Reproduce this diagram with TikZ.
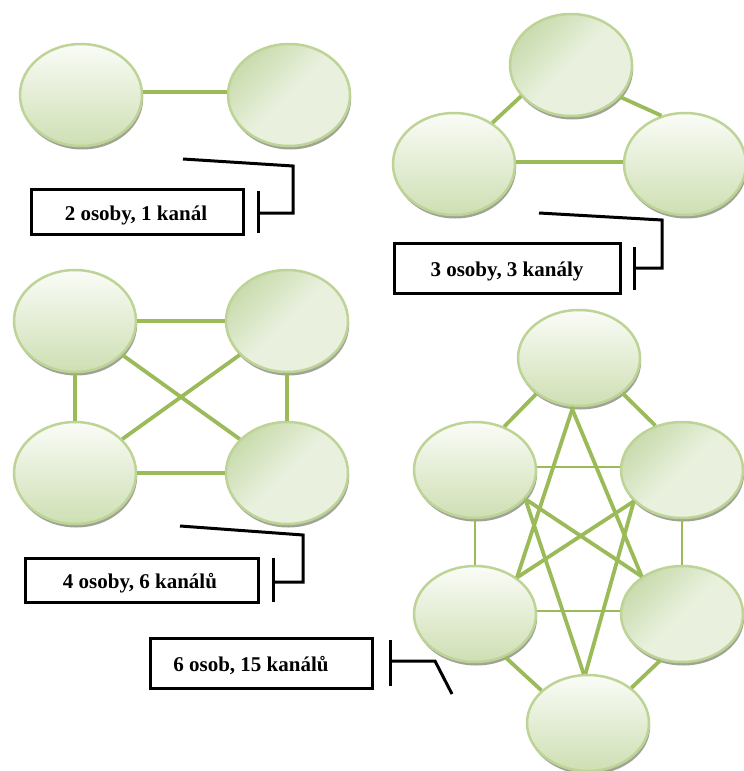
\documentclass[tikz,border=0pt]{standalone}
\usepackage{fontspec}
\setmainfont{Liberation Serif}
\usetikzlibrary{shapes.geometric,shadows}

\definecolor{rimgreen}{HTML}{BED497}
\definecolor{linkgreen}{HTML}{9BBB59}
\definecolor{fillgreen}{HTML}{CEDFB3}
\definecolor{paleg}{HTML}{FAFCF7}
\definecolor{diagdark}{HTML}{C9DBAD}
\definecolor{diaglight}{HTML}{E9F1DE}
\definecolor{shadowgrey}{HTML}{9EA396}

\tikzset{
  person/.style={ellipse, draw=rimgreen, line width=2.5pt, inner sep=0pt,
    minimum width=122pt, minimum height=102pt,
    drop shadow={shadow xshift=1.2pt, shadow yshift=-3.5pt, fill=shadowgrey, opacity=1}},
  personv/.style={person, top color=paleg, bottom color=fillgreen},
  persond/.style={person, top color=diagdark, bottom color=diaglight,
    middle color=diaglight, shading angle=45},
  small/.style={minimum height=96pt},
  link/.style={draw=linkgreen, line width=3.8pt},
  thinlink/.style={draw=linkgreen, line width=2.3pt},
  callbox/.style={draw=black, line width=3pt, inner sep=0pt},
  calltext/.style={font=\fontsize{21}{24}\selectfont\bfseries, inner sep=0pt},
  callline/.style={draw=black, line width=3pt},
}

\begin{document}
\begin{tikzpicture}[x=1pt, y=-1pt]
  \useasboundingbox (0,0) rectangle (744,771);

  % --- two people, one channel ---
  \node[personv] (a1) at (81,95) {};
  \node[persond] (a2) at (289,95) {};
  \draw[link] (a1.3) -- (a2.177);

  \node[callbox, minimum width=212pt, minimum height=45pt] (c1) at (137,211.5) {};
  \node[calltext] at (136,215) {2 osoby, 1 kanál};
  \coordinate (c1t) at (258,191);
  \coordinate (c1b) at (258,233);
  \coordinate (c1m) at (258,213);
  \coordinate (c1r) at (293,213);
  \coordinate (c1u) at (293,166);
  \coordinate (c1e) at (183,159);
  \draw[callline] (c1t) -- (c1b);
  \draw[callline] (c1m) -- (c1r) -- (c1u) -- (c1e);

  % --- three people, three channels ---
  \node[persond] (b1) at (571,65) {};
  \node[personv] (b2) at (454,164) {};
  \node[personv] (b3) at (685,164) {};
  \draw[link] (b2.47) -- (b1.212);
  \draw[link] (b1.327) -- (b3.116);
  \draw[link] (b2.2) -- (b3.178);

  \node[callbox, minimum width=226pt, minimum height=50pt] (c2) at (507,268) {};
  \node[calltext] at (507,271) {3 osoby, 3 kanály};
  \coordinate (c2t) at (634,247);
  \coordinate (c2b) at (634,290);
  \coordinate (c2m) at (634,268);
  \coordinate (c2r) at (662,268);
  \coordinate (c2u) at (662,220);
  \coordinate (c2e) at (539,213);
  \draw[callline] (c2t) -- (c2b);
  \draw[callline] (c2m) -- (c2r) -- (c2u) -- (c2e);

  % --- four people, six channels ---
  \node[personv] (d1) at (75,321) {};
  \node[persond] (d2) at (287,321) {};
  \node[personv] (d3) at (75,473) {};
  \node[persond] (d4) at (287,473) {};
  \draw[link] (d1) -- (d2);
  \draw[link] (d3) -- (d4);
  \draw[link] (d1) -- (d3);
  \draw[link] (d2) -- (d4);
  \draw[link] (d1) -- (d4);
  \draw[link] (d3) -- (d2);

  \node[callbox, minimum width=233pt, minimum height=44pt] (c3) at (141.5,580) {};
  \node[calltext] at (140,583) {4 osoby, 6 kanálů};
  \coordinate (c3t) at (273,558);
  \coordinate (c3b) at (273,602);
  \coordinate (c3m) at (273,582);
  \coordinate (c3r) at (303,582);
  \coordinate (c3u) at (303,535);
  \coordinate (c3e) at (180,526);
  \draw[callline] (c3t) -- (c3b);
  \draw[callline] (c3m) -- (c3r) -- (c3u) -- (c3e);

  % --- six people, fifteen channels ---
  \node[personv, small] (e1) at (579,358) {};
  \node[personv, small] (e2) at (475,470) {};
  \node[persond, small] (e3) at (682,470) {};
  \node[personv, small] (e4) at (475,614) {};
  \node[persond, small] (e5) at (682,614) {};
  \node[personv, small] (e6) at (588,723) {};

  \draw[link] (e1.220) -- (e2.56);
  \draw[link] (e1.321) -- (e3.121);
  \draw[link] (e4.305) -- (e6.145);
  \draw[link] (e5.245) -- (e6.39);
  \draw[thinlink] (e2.3) -- (e3.177);
  \draw[thinlink] (e4.3) -- (e5.177);
  \draw[thinlink] (e2.south) -- (e4.north);
  \draw[thinlink] (e3.south) -- (e5.north);
  \draw[link] (e1.263) -- (e4.41);
  \draw[link] (e1.261) -- (e5.137);
  \draw[link] (e6.95) -- (e2.330);
  \draw[link] (e6.93) -- (e3.213);
  \draw[link] (e2.330) -- (e5.137);
  \draw[link] (e3.213) -- (e4.41);

  \node[callbox, minimum width=222pt, minimum height=50pt] (c4) at (261,663) {};
  \node[calltext] at (251,666) {6 osob, 15 kanálů};
  \coordinate (c4t) at (390,640);
  \coordinate (c4b) at (390,686);
  \coordinate (c4m) at (390,661);
  \coordinate (c4r) at (435,661);
  \coordinate (c4e) at (452,694);
  \draw[callline] (c4t) -- (c4b);
  \draw[callline] (c4m) -- (c4r) -- (c4e);
\end{tikzpicture}
\end{document}
